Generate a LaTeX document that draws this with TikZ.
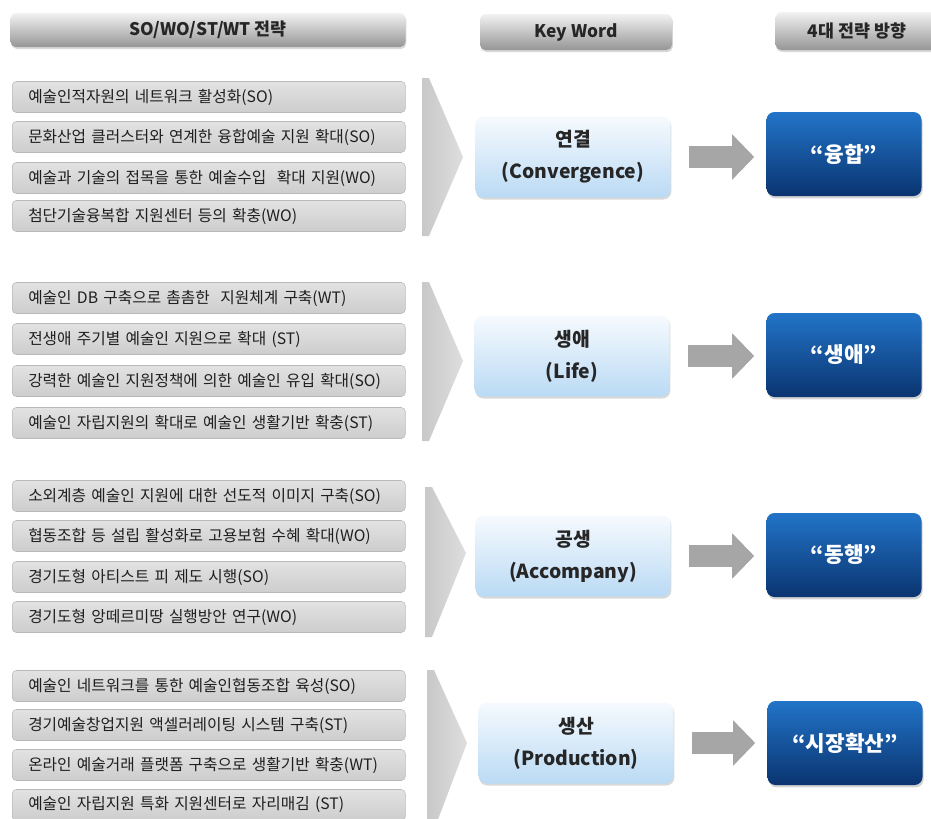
\documentclass[tikz,border=0pt]{standalone}
\usepackage{fontspec}
\newfontfamily\kr{Noto Sans CJK KR}
\usetikzlibrary{shadows,arrows.meta}

\definecolor{barTop}{RGB}{242,242,242}
\definecolor{barBot}{RGB}{150,150,150}
\definecolor{itemTop}{RGB}{226,226,226}
\definecolor{itemBot}{RGB}{205,205,205}
\definecolor{itemLine}{RGB}{185,185,185}
\definecolor{chevL}{RGB}{200,200,200}
\definecolor{chevR}{RGB}{222,222,222}
\definecolor{keyTop}{RGB}{246,250,254}
\definecolor{keyBot}{RGB}{186,218,244}
\definecolor{dirTop}{RGB}{34,116,200}
\definecolor{dirBot}{RGB}{10,52,112}
\definecolor{arrGray}{RGB}{166,166,166}

\tikzset{
  headbar/.style={rounded corners=4pt, top color=barTop, bottom color=barBot, inner sep=0pt,
    font=\kr\bfseries\fontsize{13}{15}\selectfont, text=black!85,
    drop shadow={opacity=0.3, shadow xshift=0.6pt, shadow yshift=-1.5pt}},
  itembox/.style={rounded corners=3pt, draw=itemLine, top color=itemTop, bottom color=itemBot,
    minimum width=294.75pt, minimum height=23.25pt, text width=270.75pt, inner xsep=12pt,
    inner ysep=0pt, align=left, anchor=west, font=\kr\fontsize{11.8}{13}\selectfont, text=black!88},
  keybox/.style={rounded corners=6pt, top color=keyTop, bottom color=keyBot, minimum width=146.25pt,
    minimum height=60.75pt, inner sep=0pt, align=center, font=\kr\bfseries\fontsize{14.5}{24}\selectfont,
    text=black!85, drop shadow={opacity=0.3, shadow xshift=0.6pt, shadow yshift=-1.5pt}},
  dirbox/.style={rounded corners=6pt, top color=dirTop, bottom color=dirBot, minimum width=116.25pt,
    minimum height=63pt, inner sep=0pt, font=\kr\bfseries\fontsize{16}{18}\selectfont, text=white,
    drop shadow={opacity=0.35, shadow xshift=0.8pt, shadow yshift=-1.8pt}},
  bigarrow/.style={draw=arrGray, line width=16.5pt, -{Triangle[length=16.5pt,width=33pt]},
    shorten <=13.5pt, shorten >=9pt},
  chevron/.style={left color=chevL, right color=chevR}
}

\begin{document}
\begin{tikzpicture}[x=0.75pt,y=0.75pt,yscale=-1,xscale=1]
\useasboundingbox (0,0) rectangle (931,818);

% Header bars
\node [headbar, minimum width=296.25pt, minimum height=25.5pt] (hdSwot) at (208,30) {SO/WO/ST/WT 전략};
\node [headbar, minimum width=144pt, minimum height=27pt] (hdKey) at (576,32) {Key Word};
\node [headbar, minimum width=122pt, minimum height=28.5pt] (hdDir) at (857,31) {4대 전략 방향};

% Group 1
\shade [chevron] (422,78) -- (429,78) -- (463,157) -- (429,236) -- (422,236) -- cycle;
\node [itembox] (item11) at (12,97) {예술인적자원의 네트워크 활성화(SO)};
\node [itembox] (item12) at (12,137) {문화산업 클러스터와 연계한 융합예술 지원 확대(SO)};
\node [itembox] (item13) at (12,178) {예술과 기술의 접목을 통한 예술수입~ 확대 지원(WO)};
\node [itembox] (item14) at (12,216) {첨단기술융복합 지원센터 등의 확충(WO)};
\node [keybox] (kw1) at (573,157) {연결\\(Convergence)};
\node [dirbox] (dir1) at (844,154) {“융합”};
\draw [bigarrow] (kw1.east) -- (kw1.east -| dir1.west);

% Group 2
\shade [chevron] (422,282) -- (429,282) -- (463,361) -- (429,441) -- (422,441) -- cycle;
\node [itembox] (item21) at (12,298) {예술인 DB 구축으로 촘촘한~ 지원체계 구축(WT)};
\node [itembox] (item22) at (12,339) {전생애 주기별 예술인 지원으로 확대 (ST)};
\node [itembox] (item23) at (12,381) {강력한 예술인 지원정책에 의한 예술인 유입 확대(SO)};
\node [itembox] (item24) at (12,423) {예술인 자립지원의 확대로 예술인 생활기반 확충(ST)};
\node [keybox] (kw2) at (572,356) {생애\\(Life)};
\node [dirbox] (dir2) at (844,355) {“생애”};
\draw [bigarrow] (kw2.east) -- (kw2.east -| dir2.west);

% Group 3
\shade [chevron] (425,487) -- (432,487) -- (466,553) -- (432,637) -- (425,637) -- cycle;
\node [itembox] (item31) at (12,496) {소외계층 예술인 지원에 대한 선도적 이미지 구축(SO)};
\node [itembox] (item32) at (12,536) {협동조합 등 설립 활성화로 고용보험 수혜 확대(WO)};
\node [itembox] (item33) at (12,577) {경기도형 아티스트 피 제도 시행(SO)};
\node [itembox] (item34) at (12,617) {경기도형 앙떼르미땅 실행방안 연구(WO)};
\node [keybox] (kw3) at (573,556) {공생\\(Accompany)};
\node [dirbox] (dir3) at (844,555) {“동행”};
\draw [bigarrow] (kw3.east) -- (kw3.east -| dir3.west);

% Group 4
\shade [chevron] (427,670) -- (434,670) -- (467,743) -- (434,830) -- (427,830) -- cycle;
\node [itembox] (item41) at (12,686) {예술인 네트워크를 통한 예술인협동조합 육성(SO)};
\node [itembox] (item42) at (12,725) {경기예술창업지원 액셀러레이팅 시스템 구축(ST)};
\node [itembox] (item43) at (12,765) {온라인 예술거래 플랫폼 구축으로 생활기반 확충(WT)};
\node [itembox] (item44) at (12,805) {예술인 자립지원 특화 지원센터로 자리매김 (ST)};
\node [keybox] (kw4) at (576,743) {생산\\(Production)};
\node [dirbox] (dir4) at (845,743) {“시장확산”};
\draw [bigarrow] (kw4.east) -- (kw4.east -| dir4.west);

\end{tikzpicture}
\end{document}
